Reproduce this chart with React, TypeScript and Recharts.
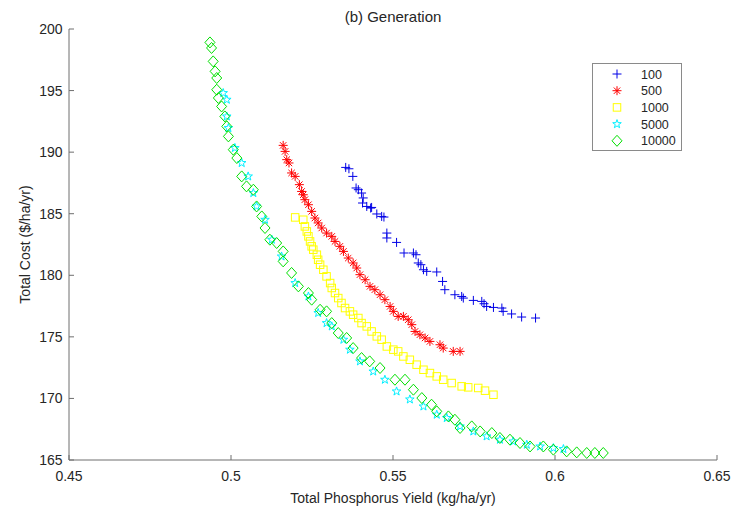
import React from 'react';
import { ScatterChart, Scatter, XAxis, YAxis } from 'recharts';

const xTicks = [0.45, 0.5, 0.55, 0.6, 0.65];
const yTicks = [165, 170, 175, 180, 185, 190, 195, 200];
const seriesNames = ['100', '500', '1000', '5000', '10000'];
const seriesColors = ['#0000e6', '#ff0000', '#ffff00', '#00f0ff', '#00e000'];

const x100 = [0.5354, 0.5364, 0.5376, 0.5386, 0.5393, 0.5403, 0.5408, 0.5406, 0.5419, 0.5431, 0.5434, 0.545, 0.5465, 0.5472, 0.5481, 0.5481, 0.5511, 0.5534, 0.5563, 0.5571, 0.5578, 0.5586, 0.5594, 0.5604, 0.5635, 0.5653, 0.566, 0.5691, 0.5712, 0.5717, 0.5748, 0.5774, 0.5781, 0.5789, 0.581, 0.5836, 0.584, 0.5866, 0.5897, 0.594];
const y100 = [188.76, 188.65, 188.03, 187.09, 186.95, 186.68, 186.28, 185.87, 185.59, 185.46, 185.51, 184.98, 184.78, 184.73, 183.43, 183.03, 182.67, 181.81, 181.81, 181.67, 181.0, 180.86, 180.45, 180.32, 180.27, 179.5, 178.83, 178.42, 178.28, 178.15, 177.96, 177.88, 177.69, 177.47, 177.39, 177.34, 177.07, 176.86, 176.61, 176.53];

const x500 = [0.5161, 0.5167, 0.5172, 0.5179, 0.5187, 0.5198, 0.5211, 0.5218, 0.5223, 0.5228, 0.5239, 0.5249, 0.5259, 0.5269, 0.528, 0.5295, 0.5311, 0.5321, 0.5336, 0.5347, 0.5362, 0.5377, 0.5388, 0.5398, 0.5414, 0.5429, 0.5444, 0.546, 0.5475, 0.5491, 0.5501, 0.5516, 0.5532, 0.5547, 0.5558, 0.5568, 0.5583, 0.5599, 0.5614, 0.5645, 0.5655, 0.5686, 0.5707];
const y500 = [190.55, 190.06, 189.39, 189.12, 188.31, 188.03, 187.36, 186.81, 186.54, 186.14, 185.73, 185.19, 184.65, 184.25, 183.84, 183.43, 183.16, 182.75, 182.35, 181.94, 181.4, 181.0, 180.59, 180.05, 179.64, 179.1, 178.83, 178.42, 178.02, 177.47, 177.07, 176.66, 176.66, 176.39, 175.99, 175.44, 175.17, 174.91, 174.63, 174.36, 174.09, 173.82, 173.82];

const x1000 = [0.5198, 0.5223, 0.5228, 0.5234, 0.5239, 0.5244, 0.5249, 0.5254, 0.5265, 0.5269, 0.5275, 0.5285, 0.5295, 0.5306, 0.5311, 0.5321, 0.5331, 0.5341, 0.5352, 0.5367, 0.5377, 0.5393, 0.5403, 0.5419, 0.5434, 0.545, 0.5465, 0.5481, 0.5501, 0.5516, 0.5532, 0.5552, 0.5573, 0.5594, 0.5614, 0.5635, 0.5655, 0.5681, 0.5712, 0.5732, 0.5763, 0.5784, 0.581];
const y1000 = [184.7, 184.51, 183.97, 183.56, 183.16, 182.75, 182.35, 182.08, 181.67, 181.26, 180.86, 180.45, 179.91, 179.37, 178.97, 178.56, 178.15, 177.75, 177.34, 177.07, 176.8, 176.53, 176.12, 175.85, 175.44, 175.04, 174.77, 174.22, 173.96, 173.82, 173.41, 173.14, 172.74, 172.33, 172.06, 171.79, 171.52, 171.25, 170.98, 170.9, 170.85, 170.63, 170.3];

const x5000 = [0.4976, 0.4987, 0.4987, 0.4992, 0.5012, 0.5033, 0.5053, 0.5069, 0.5079, 0.5105, 0.5126, 0.5156, 0.5198, 0.5239, 0.5269, 0.5295, 0.5311, 0.5347, 0.5367, 0.5398, 0.5439, 0.5475, 0.5511, 0.5552, 0.5594, 0.5635, 0.5666, 0.5707, 0.5748, 0.5789, 0.583, 0.5871, 0.5913, 0.5954, 0.5995, 0.6026];
const y5000 = [194.8, 194.26, 192.9, 191.96, 190.34, 189.12, 188.03, 186.68, 185.59, 184.51, 182.89, 181.53, 179.37, 178.28, 176.94, 176.12, 175.85, 174.77, 173.96, 173.01, 172.19, 171.52, 170.57, 169.92, 169.35, 168.68, 168.41, 167.73, 167.32, 166.92, 166.65, 166.51, 166.24, 166.1, 165.97, 165.89];

const x10000 = [0.4935, 0.494, 0.4945, 0.4951, 0.4956, 0.4956, 0.4961, 0.4971, 0.4981, 0.4987, 0.4992, 0.5007, 0.5018, 0.5033, 0.5048, 0.5069, 0.5079, 0.5095, 0.5105, 0.512, 0.5141, 0.5161, 0.5161, 0.5187, 0.5208, 0.5239, 0.5249, 0.5275, 0.5295, 0.5311, 0.5331, 0.5357, 0.5377, 0.5403, 0.5428, 0.546, 0.5506, 0.5537, 0.5563, 0.5589, 0.5619, 0.5635, 0.5671, 0.5691, 0.5707, 0.5743, 0.5769, 0.5805, 0.583, 0.5861, 0.5892, 0.5923, 0.5964, 0.5995, 0.6036, 0.6067, 0.6098, 0.6123, 0.6149];
const y10000 = [198.91, 198.46, 197.37, 196.56, 196.02, 195.07, 194.4, 193.71, 192.9, 192.09, 191.28, 190.2, 189.52, 188.03, 187.22, 186.95, 185.59, 184.78, 183.84, 182.89, 182.62, 181.94, 181.13, 180.19, 179.1, 178.56, 178.02, 177.2, 177.07, 176.12, 175.31, 174.91, 174.09, 173.28, 173.01, 172.47, 171.52, 171.52, 170.71, 170.03, 169.49, 168.95, 168.54, 168.27, 167.6, 167.73, 167.32, 167.19, 166.79, 166.65, 166.38, 166.1, 166.1, 165.84, 165.7, 165.62, 165.57, 165.57, 165.57];

const toData = (xs: number[], ys: number[]) => xs.map((x, i) => ({ x, y: ys[i] }));

const FONT = '"Liberation Sans", Arial, Helvetica, sans-serif';
const TEXT = '#262626';

type MP = { cx: number; cy: number; color: string };

const Plus = ({ cx, cy, color }: MP) => (
  <path d={`M${cx - 4.5},${cy}H${cx + 4.5}M${cx},${cy - 4.5}V${cy + 4.5}`} stroke={color} strokeWidth={1} fill="none" />
);
const Asterisk = ({ cx, cy, color }: MP) => {
  const d = 3.2;
  return (
    <path
      d={`M${cx - 4.5},${cy}H${cx + 4.5}M${cx},${cy - 4.5}V${cy + 4.5}M${cx - d},${cy - d}L${cx + d},${cy + d}M${cx - d},${cy + d}L${cx + d},${cy - d}`}
      stroke={color}
      strokeWidth={1}
      fill="none"
    />
  );
};
const Square = ({ cx, cy, color }: MP) => (
  <rect x={cx - 3.75} y={cy - 3.75} width={7.5} height={7.5} stroke={color} strokeWidth={1} fill="none" />
);
const Star = ({ cx, cy, color }: MP) => {
  const pts: string[] = [];
  for (let i = 0; i < 10; i++) {
    const r = i % 2 === 0 ? 4.5 : 1.8;
    const a = -Math.PI / 2 + (i * Math.PI) / 5;
    pts.push(`${cx + r * Math.cos(a)},${cy + r * Math.sin(a)}`);
  }
  return <polygon points={pts.join(' ')} stroke={color} strokeWidth={1} fill="none" />;
};
const Diamond = ({ cx, cy, color }: MP) => (
  <path d={`M${cx},${cy - 5.5}L${cx + 5},${cy}L${cx},${cy + 5.5}L${cx - 5},${cy}Z`} stroke={color} strokeWidth={1} fill="none" />
);

const markers = [Plus, Asterisk, Square, Star, Diamond];
const datasets = [
  toData(x100, y100),
  toData(x500, y500),
  toData(x1000, y1000),
  toData(x5000, y5000),
  toData(x10000, y10000),
];

export default function App() {
  return (
    <div style={{ position: 'absolute', left: 0, top: 0, width: 735, height: 509, background: '#fff' }}>
      <ScatterChart width={735} height={509} margin={{ top: 29, right: 18, bottom: 19, left: 29 }}>
        <XAxis
          type="number"
          dataKey="x"
          domain={[0.45, 0.65]}
          ticks={xTicks}
          interval={0}
          height={30}
          tickSize={-5}
          tickMargin={16.5}
          stroke="#6e6e6e"
          tick={{ fill: TEXT, fontSize: 14, fontFamily: FONT }}
          allowDataOverflow
        />
        <YAxis
          type="number"
          dataKey="y"
          domain={[165, 200]}
          ticks={yTicks}
          interval={0}
          width={40}
          tickSize={-5}
          tickMargin={11.5}
          stroke="#6e6e6e"
          tick={{ fill: TEXT, fontSize: 14, fontFamily: FONT }}
          allowDataOverflow
        />
        {datasets.map((d, i) => {
          const M = markers[i];
          const color = seriesColors[i];
          return (
            <Scatter
              key={seriesNames[i]}
              name={seriesNames[i]}
              data={d}
              isAnimationActive={false}
              shape={(p: any) => <M cx={p.cx} cy={p.cy} color={color} />}
            />
          );
        })}
      </ScatterChart>
      <svg
        width={735}
        height={509}
        style={{ position: 'absolute', left: 0, top: 0, pointerEvents: 'none' }}
        fontFamily={FONT}
      >
        <text x={393} y={22} textAnchor="middle" fontSize={15} fill={TEXT}>
          (b) Generation
        </text>
        <text x={393} y={503} textAnchor="middle" fontSize={14} fill={TEXT}>
          Total Phosphorus Yield (kg/ha/yr)
        </text>
        <text x={0} y={0} transform="translate(30,244.5) rotate(-90)" textAnchor="middle" fontSize={14} fill={TEXT}>
          Total Cost ($/ha/yr)
        </text>
        <rect x={592.5} y={63.5} width={89} height={87} fill="#fff" stroke="#8a8a8a" strokeWidth={1} />
        {seriesNames.map((n, i) => {
          const M = markers[i];
          const cy = 74 + i * 16.7;
          return (
            <g key={n}>
              <M cx={617} cy={cy} color={seriesColors[i]} />
              <text x={641} y={cy + 4.6} fontSize={12.5} fill={TEXT}>
                {n}
              </text>
            </g>
          );
        })}
      </svg>
    </div>
  );
}
